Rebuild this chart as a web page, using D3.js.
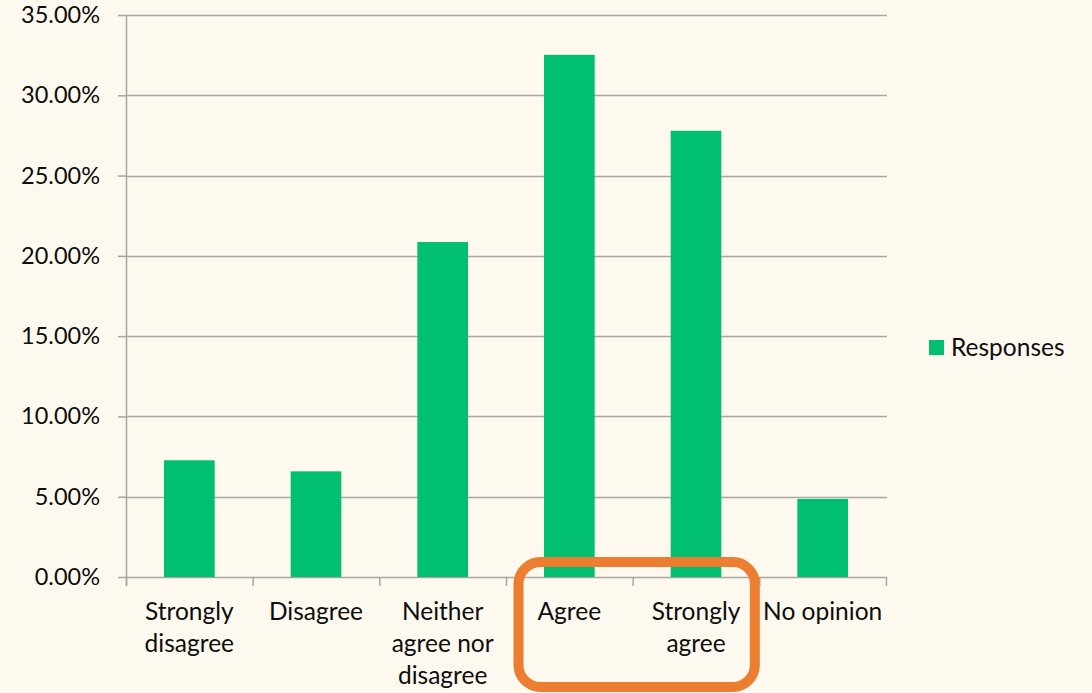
<html>
<meta charset="utf-8">
<script src="https://d3js.org/d3.v7.min.js"></script>
<style>
  body { margin: 0; background: #fef9ee; }
  text { font-family: Lato, "Open Sans", sans-serif; fill: #0d0d0d; }
</style>
<div id="chart"></div>
<script>
// chart values
let categories = ["Strongly disagree", "Disagree", "Neither agree nor disagree", "Agree", "Strongly agree", "No opinion"]
let labelLines = [["Strongly", "disagree"], ["Disagree"], ["Neither", "agree nor", "disagree"], ["Agree"], ["Strongly", "agree"], ["No opinion"]]
let responses = [7.27, 6.58, 20.86, 32.52, 27.79, 4.86]
let yTicks = [0, 5, 10, 15, 20, 25, 30, 35]
let seriesName = "Responses"
let highlighted = ["Agree", "Strongly agree"]

let width = 1092
let height = 693
let plotLeft = 126, plotRight = 886, plotTop = 15, plotBottom = 577

let svg = d3.select("#chart")
  .append("svg")
    .attr("width", width)
    .attr("height", height)

svg.append("rect")
  .attr("width", width).attr("height", height)
  .attr("fill", "#fef9ee")

let x = d3.scaleBand()
  .domain(categories)
  .range([plotLeft, plotRight])
  .padding(0)

let y = d3.scaleLinear()
  .domain([0, 35])
  .range([plotBottom, plotTop])

// gridlines + y labels
let yAxis = svg.append("g")
  .attr("transform", "translate(" + plotLeft + ",0)")
  .call(d3.axisLeft(y).tickValues(yTicks).tickSize(8).tickFormat(d => d.toFixed(2) + "%"))
yAxis.select(".domain").remove()
yAxis.selectAll(".tick line").attr("stroke", "#a6a6a6").attr("stroke-width", 1.5)
yAxis.selectAll(".tick text")
  .attr("x", -26)
  .style("font-size", "23.5px")
  .style("font-family", "Lato, sans-serif")
  .attr("fill", "#0d0d0d")

svg.append("g")
  .selectAll("line")
  .data(yTicks)
  .join("line")
    .attr("x1", plotLeft).attr("x2", plotRight + 1)
    .attr("y1", d => Math.round(y(d)) + 0.5).attr("y2", d => Math.round(y(d)) + 0.5)
    .attr("stroke", "#a6a6a6")
    .attr("stroke-width", 1.5)

// vertical axis line
svg.append("line")
  .attr("x1", plotLeft + 0.5).attr("x2", plotLeft + 0.5)
  .attr("y1", plotTop).attr("y2", plotBottom + 9)
  .attr("stroke", "#a6a6a6").attr("stroke-width", 1.5)

// category ticks
let edges = categories.map(c => x(c)).concat([plotRight])
svg.append("g")
  .selectAll("line")
  .data(edges)
  .join("line")
    .attr("x1", d => d + 0.5).attr("x2", d => d + 0.5)
    .attr("y1", plotBottom).attr("y2", plotBottom + 9)
    .attr("stroke", "#a6a6a6").attr("stroke-width", 1.5)

// bars
let barW = x.bandwidth() * 0.4
svg.append("g")
  .selectAll("rect")
  .data(responses)
  .join("rect")
    .attr("x", (d, i) => x(categories[i]) + (x.bandwidth() - barW) / 2)
    .attr("width", barW)
    .attr("y", d => y(d))
    .attr("height", d => y(0) - y(d))
    .attr("fill", "#00bf6f")

// category labels
let lab = svg.append("g")
  .selectAll("text")
  .data(labelLines)
  .join("text")
    .attr("text-anchor", "middle")
    .style("font-size", "24.5px")
lab.selectAll("tspan")
  .data((d, i) => d.map(t => ({ t: t, c: categories[i] })))
  .join("tspan")
    .attr("x", d => x(d.c) + x.bandwidth() / 2)
    .attr("y", (d, j) => 620 + j * 32)
    .text(d => d.t)

// highlight box
let hx0 = x(highlighted[0]) + 12.5
let hx1 = x(highlighted[1]) + x.bandwidth() - 4.5
svg.append("rect")
  .attr("x", hx0).attr("y", 562)
  .attr("width", hx1 - hx0).attr("height", 125)
  .attr("rx", 22).attr("ry", 22)
  .attr("fill", "none")
  .attr("stroke", "#ed7d31")
  .attr("stroke-width", 10)

// legend
let legend = svg.append("g").attr("transform", "translate(929,340)")
legend.append("rect").attr("width", 15).attr("height", 15).attr("fill", "#00bf6f")
legend.append("text")
  .attr("x", 22).attr("y", 16)
  .style("font-size", "24.5px")
  .text(seriesName)
</script>
</html>
